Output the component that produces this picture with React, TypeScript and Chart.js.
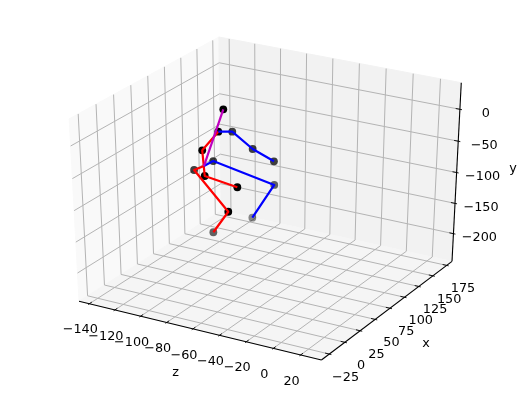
import React, { useEffect, useRef } from "react";
import { Chart, registerables } from "chart.js";

Chart.register(...registerables);

// Axis limits of the drawn box (include matplotlib's pane padding)
const zLimits = [-148.1, 35.1];
const xLimits = [-37.5, 184.8];
const yLimits = [-246.4, 41.0];

// Tick values
const zTicks = [-140, -120, -100, -80, -60, -40, -20, 0, 20];
const xTicks = [-25, 0, 25, 50, 75, 100, 125, 150, 175];
const yTicks = [-200, -150, -100, -50, 0];

// Joints (depth estimated)
const jointZ = [-96.3, -94.2, -102.9, -87.3, -72.3, -95.0, -99.0, -107.3, -70.8, -80.1, -116.3, -67.0, -95.4, -88.0, -63.2];
const jointX = [86.0, 73.7, 112.9, 113.0, 115.8, 50.5, 60.5, 91.4, 113.2, 97.1, 79.5, 32.6, 66.2, 39.7, 39.1];
const jointY = [4.0, -22.6, -49.9, -70.9, -85.8, -37.8, -70.5, -85.5, -121.7, -168.9, -96.4, -110.5, -179.3, -68.2, -74.4];

// Joints that carry a dot
const markedJoints = [0, 1, 2, 3, 4, 5, 7, 8, 9, 10, 11, 12, 13, 14];

// Bones as joint index chains
const redChains = [[1, 5, 13, 14], [6, 10, 11, 12]];
const blueChains = [[1, 2, 3, 4], [6, 7, 8, 9]];
const purpleChains = [[0, 6]];

const W = 523;
const H = 396;
const FONT = '12.8px "DejaVu Sans"';

const az = (-60 * Math.PI) / 180;
const el = (30 * Math.PI) / 180;
const U = [-Math.sin(az), Math.cos(az), 0];
const D = [Math.cos(el) * Math.cos(az), Math.cos(el) * Math.sin(az), Math.sin(el)];
const V = [D[1] * U[2] - D[2] * U[1], D[2] * U[0] - D[0] * U[2], D[0] * U[1] - D[1] * U[0]];

const dot = (a: number[], b: number[]) => a[0] * b[0] + a[1] * b[1] + a[2] * b[2];
const depthOf = (t: number[]) => dot([t[0] - 0.5, t[1] - 0.5, t[2] - 0.5], D);

function project(t: number[]) {
  const q = [t[0] - 0.5, t[1] - 0.5, t[2] - 0.5];
  const f = 10 / (10 - dot(q, D));
  return { x: 268.4 + 279.8 * dot(q, U) * f, y: 193 - 208.3 * dot(q, V) * f };
}
const unit = (v: number, lim: number[]) => (v - lim[0]) / (lim[1] - lim[0]);
const at = (z: number, x: number, y: number) => [unit(z, zLimits), unit(x, xLimits), unit(y, yLimits)];
const P = (a: number, b: number, c: number) => project([a, b, c]);

function makeDatasets() {
  const ds: any[] = [];
  const pane = (pts: any[], color: string) =>
    ds.push({ data: [...pts, pts[0]], showLine: true, fill: "shape", backgroundColor: color, borderColor: color, borderWidth: 1, pointRadius: 0 });
  pane([P(0, 0, 0), P(0, 1, 0), P(0, 1, 1), P(0, 0, 1)], "rgb(249,249,249)");
  pane([P(0, 1, 0), P(1, 1, 0), P(1, 1, 1), P(0, 1, 1)], "rgb(242,242,242)");
  pane([P(0, 0, 0), P(1, 0, 0), P(1, 1, 0), P(0, 1, 0)], "rgb(245,245,245)");

  const seg = (pts: any[], color: string, width: number) =>
    ds.push({ data: pts, showLine: true, borderColor: color, borderWidth: width, pointRadius: 0, fill: false, borderJoinStyle: "round" });

  const grid = "rgb(180,180,180)";
  for (const v of zTicks) {
    const t = unit(v, zLimits);
    seg([P(t, 0, 0), P(t, 1, 0), P(t, 1, 1)], grid, 1);
  }
  for (const v of xTicks) {
    const t = unit(v, xLimits);
    seg([P(1, t, 0), P(0, t, 0), P(0, t, 1)], grid, 1);
  }
  for (const v of yTicks) {
    const t = unit(v, yLimits);
    seg([P(0, 0, t), P(0, 1, t), P(1, 1, t)], grid, 1);
  }

  // axis lines
  seg([P(0, 0, 0), P(1, 0, 0)], "#000", 1.1);
  seg([P(1, 0, 0), P(1, 1, 0)], "#000", 1.1);
  seg([P(1, 1, 0), P(1, 1, 1)], "#000", 1.1);

  // ticks
  const inF = 0.2 / 12;
  const outF = 0.1 / 12;
  for (const v of zTicks) {
    const t = unit(v, zLimits);
    seg([P(t, inF, 0), P(t, -outF, 0)], "#000", 0.9);
  }
  for (const v of xTicks) {
    const t = unit(v, xLimits);
    seg([P(1 - inF, t, 0), P(1 + outF, t, 0)], "#000", 0.9);
  }
  for (const v of yTicks) {
    const t = unit(v, yLimits);
    seg([P(1 - inF, 1, t), P(1 + outF, 1, t)], "#000", 0.9);
  }

  // joints, shaded by depth
  const us = jointZ.map((z, i) => at(z, jointX[i], jointY[i]));
  const depths = us.map(depthOf);
  const lo = Math.min(...depths);
  const hi = Math.max(...depths);
  ds.push({
    data: markedJoints.map((i) => project(us[i])),
    showLine: false,
    pointRadius: 3.9,
    pointBorderWidth: 0,
    pointBackgroundColor: markedJoints.map((i) => `rgba(0,0,0,${Math.min(1, 0.45 + (1.2 * (depths[i] - lo)) / (hi - lo))})`),
  });

  // bones
  const bones = (chains: number[][], color: string) => {
    for (const c of chains) seg(c.map((i) => project(us[i])), color, 2.2);
  };
  bones(redChains, "#ff0000");
  bones(blueChains, "#0000ff");
  bones(purpleChains, "#bf00bf");

  ds.forEach((d, i) => (d.order = ds.length - i));
  return ds;
}

const fmt = (v: number) => String(v).replace("-", "\u2212");

const labelPlugin = {
  id: "labels3d",
  afterDraw(chart: any) {
    const { ctx, scales } = chart;
    const put = (text: string, px: number, py: number) =>
      ctx.fillText(text, scales.x.getPixelForValue(px), scales.y.getPixelForValue(py));
    ctx.save();
    ctx.font = FONT;
    ctx.fillStyle = "#000";
    ctx.textAlign = "center";
    ctx.textBaseline = "middle";
    for (const v of zTicks) {
      const p = P(unit(v, zLimits), 0, 0);
      put(fmt(v), p.x - 9, p.y + 26.3);
    }
    for (const v of xTicks) {
      const p = P(1, unit(v, xLimits), 0);
      put(fmt(v), p.x + 16.3, p.y + 23.6);
    }
    for (const v of yTicks) {
      const p = P(1, 1, unit(v, yLimits));
      put(fmt(v), p.x + 26, p.y + 4);
    }
    put("z", 175.7, 372.2);
    put("x", 426, 344);
    put("y", 513, 168.5);
    ctx.restore();
  },
};

export default function App() {
  const ref = useRef<HTMLCanvasElement>(null);
  useEffect(() => {
    const chart = new Chart(ref.current as HTMLCanvasElement, {
      type: "scatter",
      data: { datasets: makeDatasets() },
      options: {
        animation: false,
        responsive: false,
        devicePixelRatio: 1,
        layout: { padding: 0, autoPadding: false },
        plugins: { legend: { display: false }, tooltip: { enabled: false }, title: { display: false } },
        scales: {
          x: { type: "linear", display: false, min: 0, max: W },
          y: { type: "linear", display: false, min: 0, max: H, reverse: true },
        },
      },
      plugins: [labelPlugin],
    } as any);
    return () => chart.destroy();
  }, []);
  return (
    <div style={{ position: "absolute", left: 0, top: 0, width: W, height: H }}>
      <canvas ref={ref} width={W} height={H} style={{ display: "block" }} />
    </div>
  );
}
